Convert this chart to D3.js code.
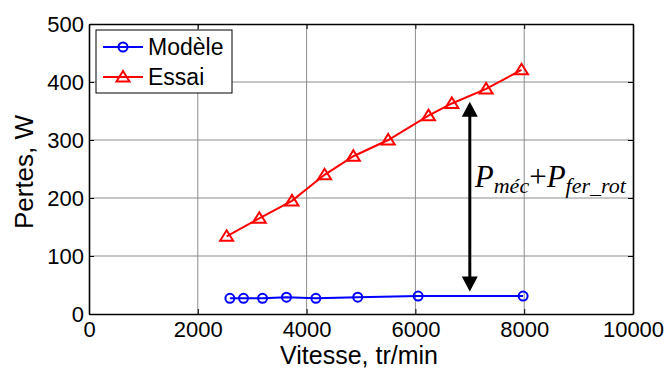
<!DOCTYPE html>
<html><head><meta charset="utf-8">
<script src="https://cdn.jsdelivr.net/npm/d3@7"></script>
<style>html,body{margin:0;padding:0;background:#fff;} svg{display:block;}</style>
</head><body>
<script>
const modeleX = [2590, 2840, 3190, 3630, 4170, 4940, 6050, 7980];
const modeleY = [27, 27, 27, 29, 27, 29, 31, 31];
const essaiX = [2530, 3130, 3730, 4330, 4860, 5500, 6240, 6670, 7300, 7950];
const essaiY = [134, 165, 195, 240, 272, 300, 342, 363, 388, 421];
const xTicks = [0, 2000, 4000, 6000, 8000, 10000];
const yTicks = [0, 100, 200, 300, 400, 500];
const seriesNames = ["Modèle", "Essai"];
const arrowX = 7000, arrowTop = 366, arrowBottom = 39;
const xTitle = "Vitesse, tr/min", yTitle = "Pertes, W";

const W = 668, H = 369;
const svg = d3.select("body").append("svg").attr("width", W).attr("height", H);
const x = d3.scaleLinear().domain([0, 10000]).range([89, 633]);
const y = d3.scaleLinear().domain([0, 500]).range([314, 24]);

// grid
const g = svg.append("g");
g.selectAll(".gx").data(xTicks.slice(1, -1)).enter().append("line")
  .attr("x1", d => x(d)).attr("x2", d => x(d)).attr("y1", y(0)).attr("y2", y(500))
  .attr("stroke", "#8c8c8c").attr("stroke-width", 1);
g.selectAll(".gy").data(yTicks.slice(1, -1)).enter().append("line")
  .attr("y1", d => y(d)).attr("y2", d => y(d)).attr("x1", x(0)).attr("x2", x(10000))
  .attr("stroke", "#8c8c8c").attr("stroke-width", 1);

// axes
const fontAx = "'Liberation Sans', Arial, sans-serif";
const fmt = d3.format("d");
const xAxB = d3.axisBottom(x).tickValues(xTicks).tickSizeInner(-5).tickSizeOuter(0).tickPadding(7.5).tickFormat(fmt);
const xAxT = d3.axisTop(x).tickValues(xTicks).tickSizeInner(-5).tickSizeOuter(0).tickFormat("");
const yAxL = d3.axisLeft(y).tickValues(yTicks).tickSizeInner(-5).tickSizeOuter(0).tickPadding(5).tickFormat(fmt);
const yAxR = d3.axisRight(y).tickValues(yTicks).tickSizeInner(-5).tickSizeOuter(0).tickFormat("");
function style(sel) {
  sel.attr("font-family", fontAx).attr("font-size", 22);
  sel.select(".domain").attr("stroke", "#000").attr("stroke-width", 1.6);
  sel.selectAll(".tick line").attr("stroke", "#000").attr("stroke-width", 1);
  sel.selectAll("text").attr("fill", "#000");
}
svg.append("g").attr("transform", `translate(0,${y(0)})`).call(xAxB).call(style);
svg.append("g").attr("transform", `translate(0,${y(500)})`).call(xAxT).call(style);
svg.append("g").attr("transform", `translate(${x(0)},0)`).call(yAxL).call(style);
svg.append("g").attr("transform", `translate(${x(10000)},0)`).call(yAxR).call(style);

// titles
svg.append("text").attr("x", (x(0) + x(10000)) / 2 - 2).attr("y", 364).attr("text-anchor", "middle")
  .attr("font-family", fontAx).attr("font-size", 25).text(xTitle);
svg.append("text").attr("transform", `translate(33,${(y(0) + y(500)) / 2 + 3}) rotate(-90)`)
  .attr("text-anchor", "middle").attr("font-family", fontAx).attr("font-size", 26).text(yTitle);

// lines
const line = d3.line().x(d => x(d[0])).y(d => y(d[1]));
const modele = modeleX.map((v, i) => [v, modeleY[i]]);
const essai = essaiX.map((v, i) => [v, essaiY[i]]);
const tri = "M0,-6L6.5,4.5L-6.5,4.5Z";

svg.append("path").datum(essai).attr("d", line).attr("fill", "none").attr("stroke", "#ff0000").attr("stroke-width", 2);
svg.selectAll(".tri").data(essai).enter().append("path").attr("d", tri)
  .attr("transform", d => `translate(${x(d[0])},${y(d[1])})`)
  .attr("fill", "none").attr("stroke", "#ff0000").attr("stroke-width", 2);

svg.append("path").datum(modele).attr("d", line).attr("fill", "none").attr("stroke", "#0000ff").attr("stroke-width", 2);
svg.selectAll(".circ").data(modele).enter().append("circle")
  .attr("cx", d => x(d[0])).attr("cy", d => y(d[1])).attr("r", 4.5)
  .attr("fill", "none").attr("stroke", "#0000ff").attr("stroke-width", 2);

// arrow
const ax = x(arrowX), at = y(arrowTop), ab = y(arrowBottom);
svg.append("line").attr("x1", ax).attr("x2", ax).attr("y1", at + 12).attr("y2", ab - 12)
  .attr("stroke", "#000").attr("stroke-width", 3);
svg.append("path").attr("d", `M${ax},${at}L${ax + 8},${at + 15}L${ax - 8},${at + 15}Z`).attr("fill", "#000");
svg.append("path").attr("d", `M${ax},${ab}L${ax + 8},${ab - 15}L${ax - 8},${ab - 15}Z`).attr("fill", "#000");

// annotation
const ann = svg.append("text").attr("x", ax + 5).attr("y", 187)
  .attr("font-family", "'Liberation Serif', 'Times New Roman', serif").attr("font-size", 31);
ann.append("tspan").attr("font-style", "italic").text("P");
ann.append("tspan").attr("font-style", "italic").attr("font-size", 22).attr("dy", 6).text("méc");
ann.append("tspan").attr("dy", -6).text("+");
ann.append("tspan").attr("font-style", "italic").text("P");
ann.append("tspan").attr("font-style", "italic").attr("font-size", 22).attr("dy", 6).text("fer_rot");

// legend
const lg = svg.append("g");
lg.append("rect").attr("x", 96).attr("y", 30).attr("width", 136).attr("height", 63)
  .attr("fill", "#fff").attr("stroke", "#000").attr("stroke-width", 1);
const rows = [47, 77];
const colors = ["#0000ff", "#ff0000"];
seriesNames.forEach((n, i) => {
  lg.append("line").attr("x1", 103).attr("x2", 143).attr("y1", rows[i]).attr("y2", rows[i])
    .attr("stroke", colors[i]).attr("stroke-width", 2);
  if (i === 0) lg.append("circle").attr("cx", 123).attr("cy", rows[i]).attr("r", 4.5)
    .attr("fill", "none").attr("stroke", colors[i]).attr("stroke-width", 2);
  else lg.append("path").attr("d", tri).attr("transform", `translate(123,${rows[i]})`)
    .attr("fill", "none").attr("stroke", colors[i]).attr("stroke-width", 2);
  lg.append("text").attr("x", 148).attr("y", rows[i] + 8).attr("font-family", fontAx)
    .attr("font-size", 23).text(n);
});
</script>
</body></html>
